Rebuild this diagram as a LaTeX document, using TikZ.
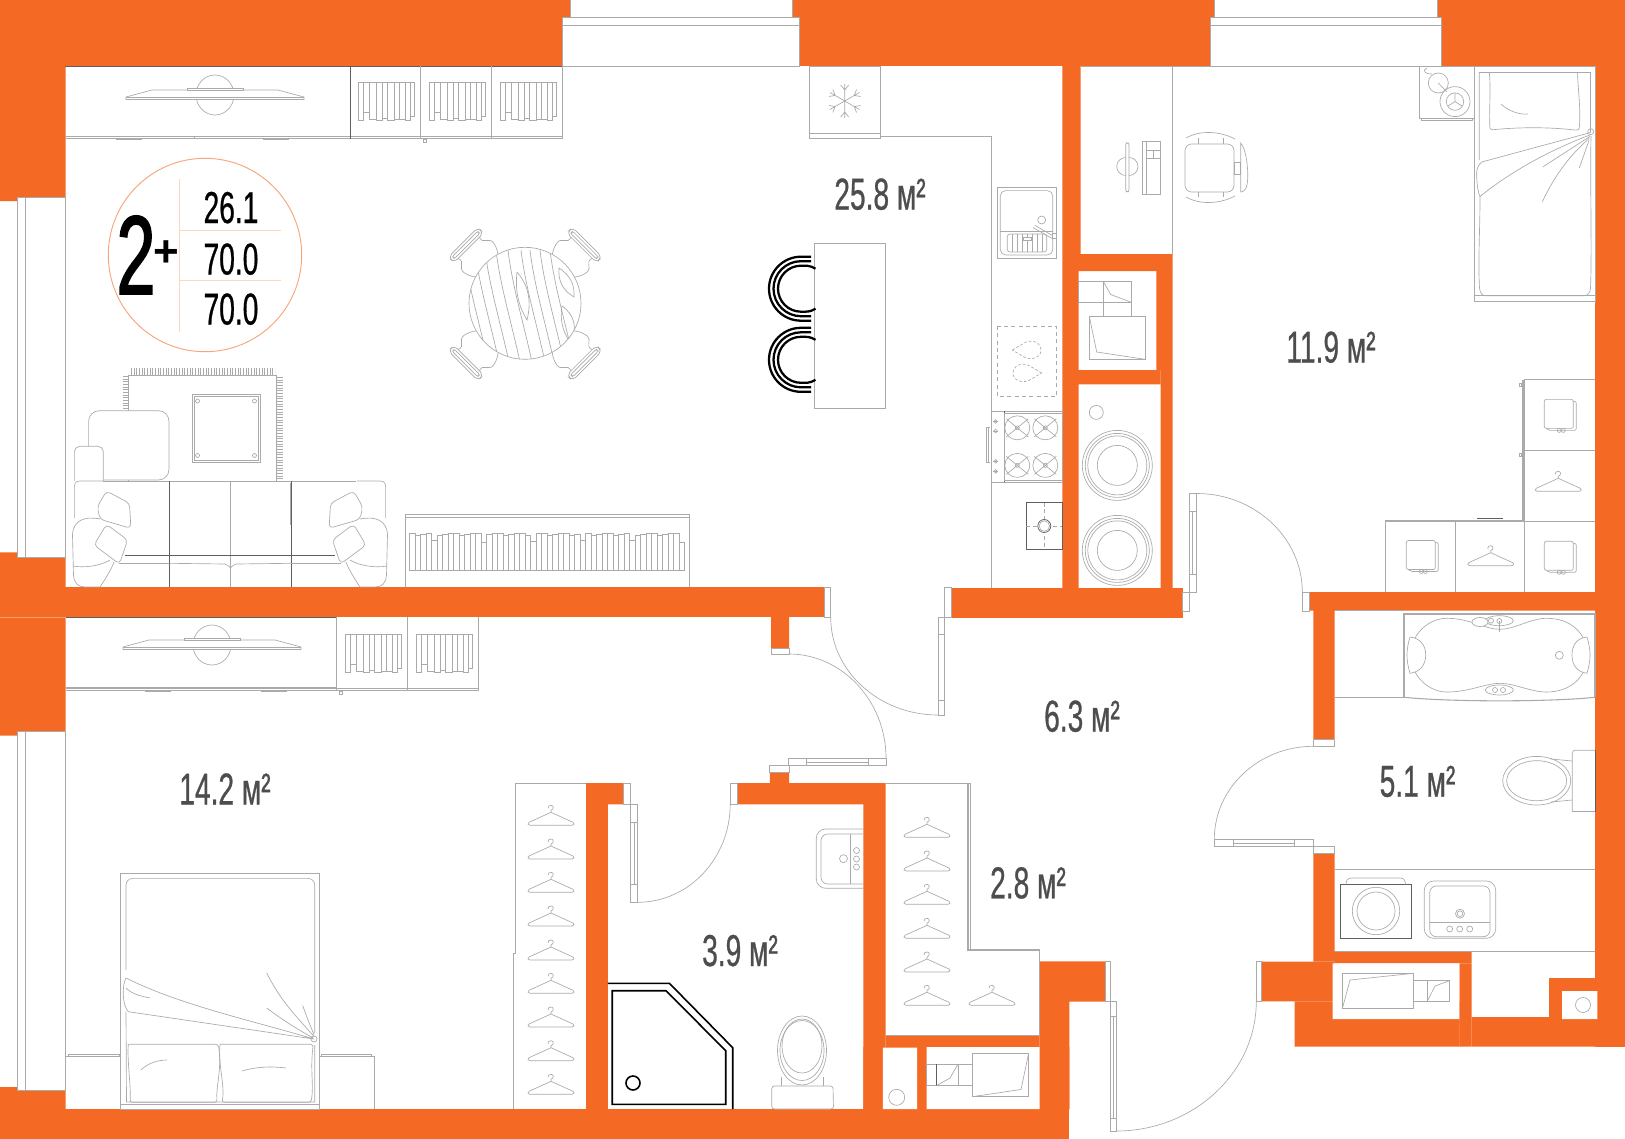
\documentclass[tikz,border=0pt]{standalone}
\usepackage{fontspec}
\newfontfamily\planfont[FakeStretch=0.63,FakeBold=0.6]{Liberation Sans}
\newfontfamily\countfont[FakeStretch=0.62,FakeBold=1.5]{Liberation Sans}
\newfontfamily\plusfont{Liberation Sans Bold}
\definecolor{wallorange}{RGB}{244,105,36}
\definecolor{ringorange}{RGB}{248,165,122}
\definecolor{ruleorange}{RGB}{252,214,194}
\definecolor{linegrey}{RGB}{170,170,170}
\definecolor{darkgrey}{RGB}{95,95,95}
\definecolor{labelgrey}{RGB}{77,77,77}
\tikzset{every picture/.style={line width=0.75pt}}
\tikzset{
  wall/.style={fill=wallorange},
  gap/.style={fill=white},
  fine/.style={draw=linegrey,line width=0.5pt},
  dark/.style={draw=darkgrey,line width=0.55pt},
  frame/.style={draw=linegrey,line width=0.5pt,fill=white},
  heavy/.style={draw=linegrey,line width=1.5pt},
  fringe/.style={draw=linegrey,dash pattern=on 0.8pt off 1.2pt},
  inkline/.style={draw=black,line width=1.2pt},
  stoolline/.style={draw=black,line width=1.7pt},
  roomlabel/.style={anchor=base,inner sep=0pt,text=labelgrey,font=\planfont\fontsize{33.5}{36}\selectfont},
  sumlabel/.style={anchor=base,inner sep=0pt,text=black,font=\planfont\fontsize{33.5}{36}\selectfont},
  hanger/.pic={
    \begin{scope}[yscale=-1]
    \draw[fine] (0,7) -- (-22,17) .. controls (-24,18) and (-23,20) .. (-21,20) -- (21,20) .. controls (23,20) and (24,18) .. (22,17) -- (0,7) -- (0,5) .. controls (3,4) and (3,0) .. (0,0) .. controls (-2,0) and (-3,1) .. (-3,3);
    \end{scope}
  },
  shirts/.pic={
    \begin{scope}[yscale=-1]
    \foreach \xa/\xb/\yb in {0/5/38,5/11/30,11/18/37,18/24/38,24/29/36,29/36/38,36/41/37,41/47/37,47/52/38,52/56/34}
      \draw[fine] (\xa,0) rectangle (\xb,\yb);
    \end{scope}
  },
  screen/.pic={
    \begin{scope}[yscale=-1]
    \draw[fine] (0,-1) ellipse [x radius=19,y radius=20];
    \draw[fine,fill=white] (-89,1) -- (-63,-6) -- (63,-6) -- (89,1) -- (89,3.5) -- (-89,3.5) -- cycle;
    \draw[fine,fill=white] (-28,-8) rectangle (28,-6);
    \draw[fine] (-89,1) -- (89,1);
    \end{scope}
  },
  foldbox/.pic={
    \begin{scope}[yscale=-1]
    \draw[fine,rounded corners=1.5] (0,0) rectangle (29,29);
    \draw[fine,rounded corners=1.5] (29,2) -- (32,2) -- (32,31) -- (4,31) -- (2,29);
    \draw[fine] (15,31) circle [radius=2];
    \draw[fine] (19,31) circle [radius=2];
    \end{scope}
  },
  burner/.pic={
    \draw[fine] (0,0) ellipse [x radius=12.5,y radius=12];
    \draw[fine] (-11,-9) -- (11,9) (-11,9) -- (11,-9);
    \draw[fine] (0,0) circle [radius=2];
  },
  seat/.pic={
    \begin{scope}[yscale=-1]
    \draw[fine,rounded corners=3.5] (-21,-4) rectangle (21,4);
    \draw[fine,rounded corners=1.5] (-18,-1.5) rectangle (18,1.5);
    \draw[fine] (-15,4) .. controls (-12,12) and (-22,10) .. (-21,18) .. controls (-20,24) and (-17,28) .. (-14,32);
    \draw[fine] (15,4) .. controls (12,12) and (22,10) .. (21,18) .. controls (20,24) and (17,28) .. (14,32);
    \end{scope}
  },
  sofaarm/.pic={
    \begin{scope}[yscale=-1]
    \draw[fine] (103,481) -- (80,481) .. controls (75,481) and (74,484) .. (74.4,490) -- (74.4,518);
    \draw[fine] (100,519) .. controls (85,516) and (73,520) .. (72.5,535) -- (73.5,575) .. controls (74,583) and (78,587) .. (85,587) -- (100,587) .. controls (106,578) and (112,568) .. (114,562);
    \draw[fine] (73,566) .. controls (85,568) and (100,566) .. (110,560);
    \draw[fine,rounded corners=3] (106.5,491) -- (129.5,503.3) -- (130.9,528.3) -- (100,519.3) -- (97.3,506.7) -- cycle;
    \draw[fine,rounded corners=3] (106.5,524.3) -- (127.6,540) -- (119.4,564) -- (94,545) -- cycle;
    \draw[dark] (125,555) -- (169.4,555);
    \draw[fine] (119,563.3) -- (169.4,563.3);
    \end{scope}
  },
}
\begin{document}
\begin{tikzpicture}[x=0.75pt,y=0.75pt,yscale=-1,xscale=1]
\useasboundingbox (0,0) rectangle (1625,1139);
\fill[white] (0,0) rectangle (1625,1139);

%Outer walls
\fill[wall] (0,0) rectangle (1625,66);
\fill[wall] (0,66) rectangle (65.7,197) (0,197) rectangle (17.3,201);
\fill[wall] (0,552.3) rectangle (17.3,587.3) (17.3,557) rectangle (65.7,587.3);
\fill[wall] (0,587.3) rectangle (824,617.3);
\fill[wall] (0,617.3) rectangle (65.7,731.3) (0,731.3) rectangle (17.3,735.7);
\fill[wall] (0,1087) rectangle (17.3,1109) (17.3,1090.7) rectangle (65.7,1109);
\fill[wall] (0,1109) rectangle (1069.4,1139);
\fill[wall] (1595.3,66) rectangle (1625,1046.7);
%Inner walls
\fill[wall] (1062.3,66) rectangle (1080.7,254) (1062.3,254) rectangle (1172.7,271);
\fill[wall] (1062.3,271) rectangle (1078.7,589) (1078.7,370) rectangle (1160.7,384.3);
\fill[wall] (1156.3,271) rectangle (1172.7,370) (1160.7,370) rectangle (1172.7,592);
\fill[wall] (951.3,587.6) rectangle (1182.7,617.6);
\fill[wall] (771,617) rectangle (789,648) (769.8,772) rectangle (789,783);
\fill[wall] (586,783) rectangle (623.7,804.3) (586,804) rectangle (607.8,1109);
\fill[wall] (737,783) rectangle (885.7,804.3) (863.3,804) rectangle (885.7,1109);
\fill[wall] (885.7,1035.3) rectangle (1039.6,1047) (863.3,1047) rectangle (1069.4,1109);
\fill[wall] (1039.6,961.3) rectangle (1105.7,1001.7) (1039.6,1001.7) rectangle (1069.4,1109);
\fill[wall] (1309,592) rectangle (1595.3,610.7) (1313.3,610.7) rectangle (1334.7,739.3);
\fill[wall] (1313.3,853.3) rectangle (1334.7,961.7) (1334.7,951.3) rectangle (1471.7,963.3);
\fill[wall] (1459.3,963.3) rectangle (1471.7,1046.7) (1261.3,961.7) rectangle (1334.7,1001.3);
\fill[wall] (1294.7,1001.3) rectangle (1459.5,1046.7) (1471.5,1017) rectangle (1595.5,1046.7);
\fill[wall] (1549.3,978.3) rectangle (1595.5,1017.2);
%Niches in the walls
\fill[gap] (882.9,1047.7) rectangle (917,1109) (926.5,1047) rectangle (1039.6,1109);
\fill[gap] (1332.7,963.3) rectangle (1459.3,1019) (1562,991) rectangle (1597.3,1019);

%Windows
\foreach \xa/\xb/\xc/\xd in {562.6/570/792/799,1210.7/1214.7/1437/1441.3}{
  \draw[frame] (\xb,-1) rectangle (\xc,17.4);
  \draw[frame] (\xa,17.4) rectangle (\xd,66);
  \draw[fine] (\xa,25.3) -- (\xd,25.3);
}
\foreach \ya/\yb in {197/557,731.3/1090.7}{
  \draw[fine] (17.3,\ya) -- (17.3,\yb) (25.7,\ya) -- (25.7,\yb) (17.3,\ya) -- (65.7,\ya);
  \draw[fine] (65.7,\ya) -- (65.7,\yb) -- (17.3,\yb);
}

%Doors
\draw[frame] (824,587.6) rectangle (830.7,617.6);
\draw[frame] (944,587.6) rectangle (951.3,617.6);
\draw[frame] (938,617.7) rectangle (944,715);
\draw[fine] (938,634) -- (944,634) (938,700) -- (944,700);
\draw[fine] (830.7,617.3) .. controls (830.7,671) and (879,715) .. (938,715);
\draw[frame] (771,648) rectangle (789,654);
\draw[frame] (769.8,765.7) rectangle (789,772);
\draw[frame] (788.6,758.3) rectangle (886.5,765.7);
\draw[fine] (806.5,758.3) -- (806.5,765.7) (868.6,758.3) -- (868.6,765.7) (806.5,762) -- (868.6,762);
\draw[fine] (789,654) .. controls (842,654) and (886,701) .. (886,758);
\draw[frame] (1189,493.5) rectangle (1196.7,592);
\draw[fine] (1189,511) -- (1196.7,511) (1189,574) -- (1196.7,574) (1192.8,511) -- (1192.8,574);
\draw[frame] (1182.7,592) rectangle (1189.3,611);
\draw[frame] (1302.3,592) rectangle (1309,611);
\draw[fine] (1196.7,493.5) .. controls (1255,493.5) and (1302.3,538) .. (1302.3,592);
\draw[frame] (1313.3,739.7) rectangle (1334.7,746.3);
\draw[frame] (1313.3,846.3) rectangle (1334.7,853.3);
\draw[frame] (1214.3,839.3) rectangle (1313.7,846.7);
\draw[fine] (1233,839.3) -- (1233,846.7) (1294.7,839.3) -- (1294.7,846.7) (1233,843) -- (1294.7,843);
\draw[fine] (1313.3,746.3) .. controls (1258.7,746.3) and (1214.3,788) .. (1214.3,839.3);
\draw[frame] (1105.7,961.3) rectangle (1110,1001.7);
\draw[frame] (1256.3,961.7) rectangle (1261.3,1001.3);
\draw[frame] (1110,1001.7) rectangle (1116.3,1131);
\draw[fine] (1110,1016) -- (1116.3,1016) (1110,1118) -- (1116.3,1118) (1113,1016) -- (1113,1118);
\draw[fine] (1256.3,1001.3) .. controls (1256.3,1073) and (1193,1131) .. (1116.3,1131);
\draw[frame] (623.7,783) rectangle (630.6,804.3);
\draw[frame] (730.2,783) rectangle (737,804.3);
\draw[frame] (630.6,804.3) rectangle (637.6,902.3);
\draw[fine] (630.6,822) -- (637.6,822) (630.6,884) -- (637.6,884) (634,822) -- (634,884);
\draw[fine] (730.2,804.3) .. controls (730.2,858) and (689,902.3) .. (637.6,902.3);

%Living room wardrobe and screen
\draw[dark] (65.4,66) -- (562.6,66);
\draw[fine] (65.4,136.7) -- (562.6,136.7);
\draw[fine] (65.4,138.7) -- (562.6,138.7) -- (562.6,66);
\draw[dark] (350.6,66) -- (350.6,138.7);
\draw[fine] (420.6,66) -- (420.6,138.7) (491.4,66) -- (491.4,138.7);
\draw[heavy,line width=1pt] (116,139.5) -- (142,139.5) (263,139.5) -- (289,139.5);
\draw[fine] (194.4,136.7) -- (194.4,138.7);
\draw[fine] (423,139) rectangle (426,142);
\pic at (215,96) {screen};
\pic at (358.6,82.3) {shirts};
\pic at (429,82.3) {shirts};
\pic at (500,82.3) {shirts};

%Circle with the totals
\draw[draw=ringorange,line width=0.7pt] (205,255) circle [radius=96.7];
\draw[draw=ruleorange,line width=0.7pt] (179.5,179) -- (179.5,331.7) (179.5,230.3) -- (281.3,230.3) (179.5,280.3) -- (281.3,280.3);
% Text Node
\node[anchor=base,inner sep=0pt,text=black,font=\countfont\fontsize{84}{90}\selectfont] (roomcount) at (136,294) {2};
% Text Node
\node[inner sep=0pt,text=black,font=\plusfont\fontsize{33}{36}\selectfont] (roomplus) at (166.5,254) {+};
% Text Node
\node[sumlabel] (livingsum) at (231,223) {26.1};
% Text Node
\node[sumlabel] (flatsum) at (231,274.5) {70.0};
% Text Node
\node[sumlabel] (totalsum) at (231,324.5) {70.0};

%Dining table
\foreach \cx/\cy/\ang in {466/245/45,584.4/245/-45,466/363/135,584.4/363/-135}
  \pic[rotate=\ang] at (\cx,\cy) {seat};
\draw[fine,fill=white] (525,303.3) circle [radius=56];
\begin{scope}
\clip (525,303.3) circle [radius=56];
\foreach \dx in {-24,-13,-3,8,20,33,42,52,62}
  \draw[fine] (488+\dx,250) .. controls (492+\dx,285) and (504+\dx,325) .. (512+\dx,362);
\draw[fine] (517,272) .. controls (528,285) and (532,300) .. (527,320) .. controls (518,305) and (515,290) .. (517,272);
\draw[fine] (559,268) .. controls (570,275) and (575,285) .. (574,297) .. controls (562,290) and (558,280) .. (559,268);
\draw[fine] (562,306) .. controls (575,315) and (578,330) .. (570,342) .. controls (562,330) and (560,320) .. (562,306);
\end{scope}

%Rug and coffee table
\draw[fine,fill=white] (128.6,375.3) rectangle (276.4,481.7);
\draw[fringe,line width=5.25pt] (131,371.8) -- (275,371.8);
\draw[fringe,line width=4.5pt] (125.6,376) -- (125.6,410);
\draw[fringe,line width=4.5pt] (279.6,377) -- (279.6,480);
\draw[fine] (192.4,394.3) rectangle (260.3,462.3);
\draw[fine] (194.4,396.3) rectangle (258.3,460.3);
\foreach \cx/\cy in {197.5/401,254.5/401,197.5/455.5,254.5/455.5}
  \draw[fine] (\cx,\cy) circle [radius=2];

%Sofa with armchair
\draw[fine,fill=white,rounded corners=8] (88.6,480) -- (88.6,410.7) -- (169,410.7) -- (169,480) -- cycle;
\draw[fine,fill=white,rounded corners=4] (74.4,481) -- (74.4,446.3) -- (103.3,446.3) -- (103.3,481);
\draw[fine] (103,481) -- (356,481);
\draw[dark] (169.4,481) -- (169.4,587.3);
\draw[fine] (230.5,481) -- (230.5,587.3);
\draw[heavy,line width=1pt] (230.5,482) -- (230.5,495) (230.5,540) -- (230.5,556) (291,483) -- (291,525);
\draw[dark] (291,481) -- (291,587.3);
\draw[dark] (169.4,555) -- (291,555);
\draw[fine] (169.4,563.3) -- (225,564) .. controls (228,565) and (230,567) .. (230.5,568) .. controls (231,567) and (233,565) .. (236,564) -- (291,563.3);
\pic at (0,0) {sofaarm};
\pic[xscale=-1] at (460,0) {sofaarm};

%Bench with books
\draw[fine] (405.4,587.3) -- (405.4,514.3) -- (689.2,514.3) -- (689.2,587.3);
\draw[fine] (405.4,517.3) -- (689.2,517.3);
\foreach \n in {0,...,49}{
  \pgfmathsetmacro{\bookx}{409.5+\n*5.5}
  \pgfmathsetmacro{\booktop}{533+(mod(\n,9)==4)*7+mod(\n*3,4)*0.8}
  \draw[fine] (\bookx,\booktop) rectangle (\bookx+5.5,570.7);
}

%Kitchen
\draw[fine] (809.3,66) rectangle (880.7,138.8);
\draw[fine] (809.3,133.3) -- (880.7,133.3);
\begin{scope}[shift={(844.7,101)}]
\foreach \a in {0,60,...,300}
  \draw[fine,rotate=\a] (0,0) -- (0,-17) (-4,-16) -- (0,-11) -- (4,-16);
\end{scope}
\draw[fine] (880.7,136.4) -- (991.3,136.4) -- (991.3,587.6);
\draw[fine] (997.3,187) rectangle (1056.7,258.6);
\draw[fine,rounded corners=4] (1000.3,190.6) rectangle (1052.7,255);
\draw[fine] (1000.3,231) -- (1052.7,231);
\draw[fine,rounded corners=2] (1007.3,234) rectangle (1046.7,252);
\foreach \x in {1012,1017,...,1042}
  \draw[fine] (\x,234) -- (\x,252);
\draw[fine,fill=white] (1023,237) rectangle (1031,240);
\draw[fine] (1041.7,220) circle [radius=4];
\draw[fine] (1035,225.4) -- (1055,237) (1033,227.5) -- (1053,239);
\draw[fine,fill=white] (1052,233) rectangle (1056.7,238);
\draw[fine,dashed,dash pattern=on 3pt off 2.5pt] (997.3,326) rectangle (1056.7,396.6);
\draw[fine,dashed,dash pattern=on 2pt off 1.5pt] (1012.3,350) -- (1026,342) .. controls (1036,339) and (1042,345) .. (1041,351) .. controls (1040,358) and (1032,360) .. (1026,358) -- cycle;
\draw[fine,dashed,dash pattern=on 2pt off 1.5pt] (1041.7,372.9) -- (1028,365) .. controls (1018,362) and (1012,368) .. (1013,374) .. controls (1014,381) and (1022,383) .. (1028,381) -- cycle;
\draw[fine] (991.7,411) rectangle (1062.3,482.4);
\draw[dark] (1004,411) -- (1004,482.4);
\draw[fine] (1004,413) rectangle (1062,480);
\foreach \cx/\cy in {1017.3/427.8,1045.3/427.8,1017.3/465.4,1045.3/465.4}
  \pic at (\cx,\cy) {burner};
\foreach \cy in {421.5,431,461.4,471.3}{
  \draw[fine] (995.7,\cy) circle [radius=1.8];
  \draw[fine] (993,\cy) -- (998.4,\cy);
}
\draw[fine] (990,427) -- (986,427) -- (986,462) -- (990,462) (988,427) -- (988,462);
\draw[dark] (1026.3,502.6) rectangle (1062.3,549.2);
\draw[fine,densely dashed] (1044.3,502.6) -- (1044.3,549.2) (1026.3,526) -- (1062.3,526);
\draw[dark,fill=white] (1044.3,526) circle [radius=6.5];
\draw[fine] (1044.3,526) circle [radius=5.2];

%Stools at the bar
\draw[fine] (814.3,243.6) rectangle (885.7,408.5);
\foreach \cy in {288.7,359.8}{
  \foreach \r in {32,27.5}
    \draw[stoolline] (811,\cy-\r) -- (801,\cy-\r) arc [start angle=270,end angle=90,radius=\r] -- (811,\cy+\r);
  \draw[stoolline] (815.5,\cy-20) .. controls (810,\cy-23.5) and (806,\cy-23) .. (801,\cy-23) arc [start angle=270,end angle=90,radius=23] .. controls (806,\cy+23) and (810,\cy+23.5) .. (815.5,\cy+20);
}

%Laundry niche
\draw[fine] (1078.7,281.5) rectangle (1131.7,302.5);
\draw[fine] (1103.3,281.5) -- (1103.3,316.3) (1131.7,281.5) -- (1131.7,316.3);
\draw[fine] (1103.3,281.5) -- (1110.7,294.5) -- (1131.7,302.5);
\draw[fine] (1089.3,316.3) rectangle (1145.7,359.4);
\draw[fine] (1089.3,316.3) -- (1096.7,352) -- (1145.7,359.4);
\draw[fine] (1096.3,412.4) circle [radius=7];
\foreach \cy in {465.4,550.4}{
  \foreach \r in {35,32,29.5,20}
    \draw[fine] (1117.3,\cy) circle [radius=\r];
}

%Desk and chair
\draw[fine] (1172.7,66) -- (1172.7,254);
\draw[fine] (1080.7,66) -- (1595.3,66);
\draw[fine,rounded corners=1.5] (1125.7,143) rectangle (1129,191.8);
\draw[fine] (1125.7,157.5) arc [start angle=270,end angle=90,radius=9];
\draw[fine] (1129,157.5) arc [start angle=-90,end angle=90,radius=9];
\draw[fine] (1142.3,141.6) rectangle (1160.7,194.5);
\draw[fine] (1146,141.6) -- (1146,194.5);
\draw[fine] (1146,150) -- (1160.7,150) (1146,158) -- (1160.7,158) (1153,150) -- (1153,158);
\draw[fine,rounded corners=5] (1185,144) rectangle (1234,192);
\draw[fine] (1186,138) .. controls (1200,130) and (1220,131) .. (1235,139) (1186,197) .. controls (1200,205) and (1220,204) .. (1235,196);
\draw[fine] (1198,138) -- (1198,144) (1223,138) -- (1223,144) (1198,192) -- (1198,197) (1223,192) -- (1223,197);
\draw[fine] (1234,162) rectangle (1240.7,174);
\draw[fine] (1240.7,143) .. controls (1247,150) and (1249,175) .. (1247,185) .. controls (1246,190) and (1243,192) .. (1240.7,192) -- cycle;

%Nightstand and lamp
\draw[fine] (1419.3,66) -- (1419.3,118.6) -- (1474.3,118.6);
\draw[fine] (1421,118.6) rectangle (1472,120.6);
\draw[fine] (1455,101.6) circle [radius=15];
\draw[fine] (1455,101.6) circle [radius=8.7];
\draw[fine] (1455,101.6) -- (1455,93) (1455,101.6) -- (1448,106) (1455,101.6) -- (1462,106);
\draw[fine] (1438.3,83) circle [radius=10];
\draw[fine] (1438.3,83) -- (1447,92);
\draw[fine] (1427,68) .. controls (1422,70) and (1424,74) .. (1432,74);

%Single bed
\draw[fine] (1474.3,66) rectangle (1595.3,301.3);
\draw[fine] (1474.3,295.8) -- (1595.3,295.8);
\draw[fine] (1479.3,72) -- (1590.7,72);
\draw[fine] (1590.7,72) -- (1590.7,132);
\draw[fine] (1479.3,72) -- (1479.3,160) (1480,197) .. controls (1480,230) and (1478,260) .. (1479.5,288) .. controls (1480,293) and (1482,295.8) .. (1486,295.8) -- (1584,295.8) .. controls (1588,295.8) and (1590,293) .. (1590.5,288) .. controls (1592,250) and (1590,180) .. (1591,136);
\draw[fine,rounded corners=2] (1489.3,72) .. controls (1491,90) and (1489,110) .. (1490,130) .. controls (1520,127) and (1550,127) .. (1579,130.5) .. controls (1581,110) and (1578,90) .. (1577.5,72);
\draw[fine] (1501,104) .. controls (1508,111) and (1520,115) .. (1528,114);
\draw[fine] (1590.7,132.5) -- (1481.7,162) .. controls (1478,165) and (1476,170) .. (1476.7,176) .. controls (1477,186) and (1478,192) .. (1480,196.5) .. controls (1510,172) and (1550,150) .. (1590,135);
\draw[fine] (1590,136.4) -- (1542.7,167) (1589.3,138.4) .. controls (1570,155) and (1555,175) .. (1542.3,201.7) (1589,140.4) -- (1579.3,168);
\draw[fine] (1590.7,131.7) circle [radius=3];

%Bedroom wardrobe
\draw[fine] (1524.3,379.6) -- (1595.3,379.6) (1524.3,450.4) -- (1595.3,450.4) (1524.3,521) -- (1595.3,521);
\draw[fine] (1524.3,379.6) -- (1524.3,592) (1455.3,520) -- (1455.3,592) (1385.3,520) -- (1385.3,592);
\draw[heavy] (1522.9,379.6) -- (1522.9,520.5) -- (1385.3,520.5);
\draw[dark] (1477.3,518.5) -- (1502.7,518.5);
\draw[fine] (1519,383) rectangle (1521,386) (1519,453.5) rectangle (1521,456.5);
\pic at (1544.3,399.4) {foldbox};
\pic at (1406.3,540.5) {foldbox};
\pic at (1544.3,541.3) {foldbox};
\pic at (1558.3,471.3) {hanger};
\pic at (1490.7,545.7) {hanger};

%Bathroom
\draw[fine] (1334.7,610.7) -- (1404,610.7);
\draw[fine] (1334.7,697.3) -- (1404,697.3);
\draw[heavy,line width=1pt] (1404,697.3) -- (1404,614) -- (1595,614) -- (1595,697.3);
\draw[fine,line width=0.8pt] (1404,697.3) .. controls (1450,702) and (1550,702) .. (1595,697.3);
\draw[fine] (1410,655) .. controls (1412,632) and (1430,618.3) .. (1446.7,618.3) .. controls (1470,618.3) and (1485,629.3) .. (1500,629.3) .. controls (1515,629.3) and (1530,618.3) .. (1546.7,618.3) .. controls (1570,618.3) and (1586,632) .. (1588.3,655) .. controls (1586,678) and (1570,692) .. (1546.7,692) .. controls (1530,692) and (1515,683.3) .. (1500,683.3) .. controls (1485,683.3) and (1470,692) .. (1446.7,692) .. controls (1430,692) and (1412,678) .. (1410,655);
\draw[fine,fill=white] (1410,637) .. controls (1420,638) and (1425.7,645) .. (1425.7,655) .. controls (1425.7,665) and (1420,672) .. (1410,673.3) .. controls (1406,660) and (1406,650) .. (1410,637);
\draw[fine,fill=white] (1587,637) .. controls (1577,638) and (1572,645) .. (1572,655) .. controls (1572,665) and (1577,672) .. (1587,673.3) .. controls (1591,660) and (1591,650) .. (1587,637);
\draw[fine] (1559.3,655.3) circle [radius=4];
\draw[fine,fill=white] (1499.3,620.7) ellipse [x radius=14,y radius=5];
\draw[fine,fill=white] (1480,622) ellipse [x radius=8,y radius=4.5];
\draw[fine] (1491,620.7) circle [radius=2.5] (1499.3,621) circle [radius=2.5];
\draw[fine] (1499.3,621) -- (1499.3,632);
\draw[fine] (1499.3,690) ellipse [x radius=14,y radius=5];
\draw[fine] (1495,690) circle [radius=2.5] (1503,690) circle [radius=2.5];
\draw[fine,rounded corners=2] (1572.3,811.7) -- (1572.3,750.3) -- (1595.3,750.3);
\draw[fine,rounded corners=2] (1572.3,811.7) -- (1595.3,811.7);
\draw[dark] (1595.3,750.3) -- (1595.3,811.7);
\draw[fine] (1536.7,780.7) ellipse [x radius=34,y radius=24.3];
\draw[fine] (1536.7,780.7) ellipse [x radius=30,y radius=20];
\draw[fine] (1551,759) -- (1572.3,761) (1551,802) -- (1572.3,800);
\draw[fine] (1334.7,869.3) -- (1595.3,869.3);
\draw[fine] (1334.7,951.3) -- (1595.3,951.3);
\draw[dark,line width=0.7pt] (1340.3,884.3) rectangle (1411.7,938.3);
\draw[fine] (1346,884.3) .. controls (1346,880) and (1348,878) .. (1352,878) -- (1400,878) .. controls (1404,878) and (1405,880) .. (1405.5,884.3);
\draw[fine] (1376,911) circle [radius=23.7];
\draw[fine] (1376,911) circle [radius=19];
\draw[fine,rounded corners=7] (1424.3,938.3) -- (1424.3,881) -- (1495.7,881) -- (1495.7,938.3) -- cycle;
\draw[fine,rounded corners=5] (1429.7,936.7) -- (1429.7,886) -- (1490,886) -- (1490,936.7) -- cycle;
\draw[fine] (1429.7,922.3) -- (1490,922.3);
\draw[fine] (1460,913.7) circle [radius=4.5];
\draw[fine] (1460,913.7) circle [radius=2.8];
\foreach \x in {1449.7,1459.7,1469.7}
  \draw[fine] (\x,929) circle [radius=3];

%Bathroom niche
\draw[fine] (1342.3,973.3) rectangle (1413.7,1008.7);
\draw[fine] (1342.3,1008.7) -- (1350,980) -- (1413.7,973.3);
\draw[fine] (1413.7,980.7) rectangle (1449.3,1001.3);
\draw[fine] (1427.3,980.7) -- (1427.3,1001.3);
\draw[fine] (1427.3,1001.3) -- (1435,986) -- (1449.3,980.7);
\draw[fine] (1583,1005) circle [radius=7.5];

%Shower room
\draw[inkline] (607.8,983.3) -- (669.4,983.3) -- (732.7,1047.7) -- (732.7,1109);
\draw[inkline] (612.2,990.7) -- (666,990.7) -- (725.7,1050.7) -- (725.7,1104.3) -- (612.2,1104.3) -- cycle;
\draw[inkline] (633,1083) circle [radius=7];
\draw[fine] (802,1050.5) ellipse [x radius=24.5,y radius=34.5];
\draw[fine] (802,1046) ellipse [x radius=20,y radius=27];
\draw[fine] (802,1050.5) ellipse [x radius=22,y radius=30];
\draw[fine,rounded corners=2,fill=white] (771.8,1109) -- (771.8,1086) -- (833,1086) -- (833.5,1109) -- cycle;
\draw[fine] (781,1077) -- (781,1086) (823,1077) -- (823,1086);
\draw[fine,rounded corners=7] (863.3,829) -- (816.3,829) -- (816.3,888.3) -- (863.3,888.3);
\draw[fine,rounded corners=5] (863.3,834) -- (821,834) -- (821,884) -- (863.3,884);
\draw[fine] (850,834) -- (850,884);
\draw[fine] (843.5,858.7) circle [radius=4];
\foreach \cy in {850.5,859,867}
  \draw[fine] (856.5,\cy) circle [radius=3];

%Hangers in the walk-in closets
\draw[fine] (586,783) -- (515.5,783) -- (515.5,953);
\draw[fine] (513.5,953) -- (513.5,1109) (515.5,953) -- (513.5,953);
\foreach \cy in {805.3,839,872.3,906,940,973.3,1007,1040.7,1074.3}
  \pic at (551,\cy) {hanger};
\draw[fine] (885.7,783) -- (970,783) -- (970,951);
\draw[heavy] (967.8,783) -- (967.8,950) -- (1039.6,950);
\draw[fine] (885.7,1035.3) -- (1039.6,1035.3) -- (1039.6,951);
\foreach \cy in {817.3,851,884.3,918.3,952,985.3}
  \pic at (927,\cy) {hanger};
\pic at (992,985.3) {hanger};

%Small niches of the closet
\draw[fine] (896.7,1097.3) circle [radius=8];
\draw[fine] (972,1053.3) rectangle (1028.6,1096.7);
\draw[fine] (972,1096.7) -- (1021,1089.5) -- (1028.6,1053.3);
\draw[fine] (926.5,1064) rectangle (972,1085.7);
\draw[dark] (936.5,1064) -- (936.5,1085.7);
\draw[fine] (958,1064) -- (958,1085.7);
\draw[fine] (936.5,1085.7) -- (950,1078) -- (958,1064);

%Lower bedroom wardrobe and screen
\draw[dark] (65.7,617.3) -- (336.5,617.3);
\draw[heavy] (65.7,687.6) -- (336.5,687.6);
\draw[fine] (65.7,690) -- (478.4,690) -- (478.4,617.3);
\draw[fine] (336.5,617.3) -- (336.5,690) (407.3,617.3) -- (407.3,690) (407.3,688) -- (478.4,688) (336.5,688) -- (407.3,688);
\draw[heavy,line width=1pt] (145,691) -- (170.8,691) (260.8,691) -- (287,691);
\draw[fine] (339,691) rectangle (342,694);
\pic at (212,646) {screen};
\pic at (345.3,634) {shirts};
\pic at (416.4,634) {shirts};

%Double bed
\draw[fine] (120.3,873.5) rectangle (319.3,1109);
\draw[fine] (120.3,1104.5) -- (319.3,1104.5);
\draw[fine,rounded corners=5] (126,970) -- (126,878.4) -- (314.7,878.4) -- (314.7,1033);
\draw[fine] (126,1011.7) -- (126.5,1102) -- (314.7,1102) -- (314.7,1045);
\draw[fine] (314,1039) .. controls (250,1020) and (180,1005) .. (126,978) .. controls (122,985) and (122,1005) .. (128.3,1011.7) -- (314,1039);
\draw[fine] (126,988) .. controls (132,994) and (140,996) .. (150,998);
\draw[fine] (314,1036.4) .. controls (295,1015) and (280,1000) .. (266.7,972.8) (313.3,1038) .. controls (295,1028) and (280,1018) .. (266.7,1008) (314,1034.7) .. controls (310,1025) and (306,1015) .. (302.7,1005.5);
\draw[fine] (314,1039) circle [radius=3];
\draw[fine,rounded corners=2] (128.3,1044.3) -- (218.3,1044.3) .. controls (222,1070) and (216,1085) .. (217,1102.4) -- (130,1102.4) .. controls (131,1085) and (127,1060) .. (128.3,1044.3);
\draw[fine,rounded corners=2] (220,1044.3) -- (313.3,1044.3) .. controls (310,1070) and (314,1085) .. (311,1102.4) -- (222,1102.4) .. controls (225,1085) and (218,1065) .. (220,1044.3);
\draw[fine] (141,1070) .. controls (148,1063) and (158,1060) .. (167,1060) (242,1071) .. controls (255,1067) and (270,1066) .. (286,1068);
\draw[fine] (65.7,1056.4) -- (120.3,1056.4);
\draw[fine] (68.3,1056.4) -- (68.3,1054) -- (119,1054) -- (119,1056.4);
\draw[fine] (319.3,1056.4) -- (374.3,1056.4) -- (374.3,1109);
\draw[fine] (321,1056.4) -- (321,1054) -- (371.7,1054) -- (371.7,1056.4);

% Text Node
\node[roomlabel] (kitchenarea) at (880,209.6) {25.8 м²};
% Text Node
\node[roomlabel] (studyarea) at (1331,362.6) {11.9 м²};
% Text Node
\node[roomlabel] (bedroomarea) at (225,804.5) {14.2 м²};
% Text Node
\node[roomlabel] (hallarea) at (1082,731.6) {6.3 м²};
% Text Node
\node[roomlabel] (batharea) at (1417.5,796.7) {5.1 м²};
% Text Node
\node[roomlabel] (closetarea) at (1028,898.3) {2.8 м²};
% Text Node
\node[roomlabel] (showerarea) at (740,966) {3.9 м²};

\end{tikzpicture}
\end{document}
